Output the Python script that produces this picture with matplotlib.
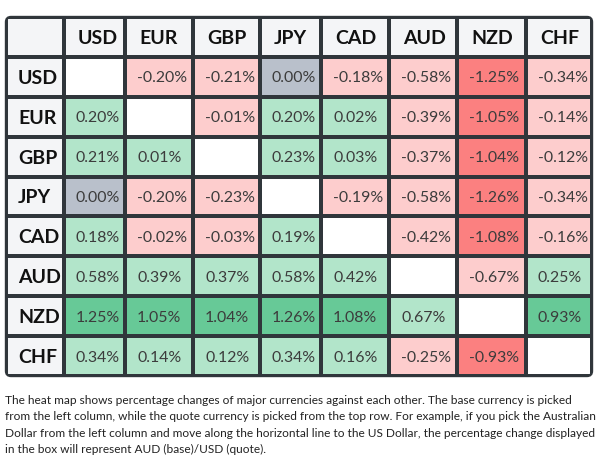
import numpy as np
import matplotlib
matplotlib.use("Agg")
import matplotlib.pyplot as plt
from matplotlib.colors import ListedColormap
from matplotlib.patches import FancyBboxPatch

plt.rcParams['font.family'] = ['Lato', 'DejaVu Sans']

currencies = ["USD", "EUR", "GBP", "JPY", "CAD", "AUD", "NZD", "CHF"]

# rows = base currency, cols = quote currency, None on the diagonal
usd = [None, -0.20, -0.21, 0.00, -0.18, -0.58, -1.25, -0.34]
eur = [0.20, None, -0.01, 0.20, 0.02, -0.39, -1.05, -0.14]
gbp = [0.21, 0.01, None, 0.23, 0.03, -0.37, -1.04, -0.12]
jpy = [0.00, -0.20, -0.23, None, -0.19, -0.58, -1.26, -0.34]
cad = [0.18, -0.02, -0.03, 0.19, None, -0.42, -1.08, -0.16]
aud = [0.58, 0.39, 0.37, 0.58, 0.42, None, -0.67, 0.25]
nzd = [1.25, 1.05, 1.04, 1.26, 1.08, 0.67, None, 0.93]
chf = [0.34, 0.14, 0.12, 0.34, 0.16, -0.25, -0.93, None]
rows = [usd, eur, gbp, jpy, cad, aud, nzd, chf]

caption = [
    "The heat map shows percentage changes of major currencies against each other. The base currency is picked",
    "from the left column, while the quote currency is picked from the top row. For example, if you pick the Australian",
    "Dollar from the left column and move along the horizontal line to the US Dollar, the percentage change displayed",
    "in the box will represent AUD (base)/USD (quote).",
]

# colour classes: 0 header, 1 blank, 2 light red, 3 strong red, 4 light green, 5 strong green, 6 flat
palette = ["#f4f5f7", "#ffffff", "#fdcdcd", "#fb8080", "#b2e5ca", "#67c997", "#b9c0cb"]


def cls(v):
    if v is None:
        return 1
    if v == 0:
        return 6
    if v < 0:
        return 3 if v <= -0.9 else 2
    return 5 if v >= 0.9 else 4


n = len(currencies) + 1
grid = np.zeros((n, n), dtype=int)
for i, r in enumerate(rows):
    for j, v in enumerate(r):
        grid[i + 1, j + 1] = cls(v)

W, H = 601, 461
fig = plt.figure(figsize=(W / 100, H / 100), dpi=100)
fig.patch.set_facecolor("white")

tx0, tx1, ty0, ty1 = 6, 592, 17, 376
ax = fig.add_axes([tx0 / W, 1 - ty1 / H, (tx1 - tx0) / W, (ty1 - ty0) / H])
col_w = [58, 61, 68, 67, 61, 68, 68, 69, 66]
xe = np.concatenate([[0], np.cumsum(col_w)])
ye = np.linspace(0, ty1 - ty0, n + 1)
ax.set_xlim(0, xe[-1])
ax.set_ylim(ye[-1], 0)
ax.axis("off")

clip = FancyBboxPatch((0, 0), xe[-1], ye[-1], boxstyle="round,pad=0,rounding_size=5",
                      transform=ax.transData, facecolor="none", edgecolor="#30363b",
                      linewidth=1.7, zorder=5, clip_on=False)
mesh = ax.pcolormesh(xe, ye, grid, cmap=ListedColormap(palette), vmin=-0.5, vmax=6.5,
                     edgecolors="#30363b", linewidth=1.7)
ax.add_patch(clip)
mesh.set_clip_path(clip)

pad = 12
for k, c in enumerate(currencies):
    yc = (ye[k + 1] + ye[k + 2]) / 2
    ax.text(xe[0] + pad, yc, c, ha="left", va="center_baseline", fontsize=14,
            fontweight="bold", color="#111111")
    xc = xe[k + 1] + pad + 2
    ax.text(xc, (ye[0] + ye[1]) / 2, c, ha="left", va="center_baseline", fontsize=14,
            fontweight="bold", color="#111111")

for i, r in enumerate(rows):
    for j, v in enumerate(r):
        if v is None:
            continue
        ax.text(xe[j + 1] + pad, (ye[i + 1] + ye[i + 2]) / 2, f"{v:.2f}%", ha="left",
                va="center_baseline", fontsize=11.4, color="#3c3c3c")

for k, line in enumerate(caption):
    fig.text(5 / W, 1 - (400 + k * 16.5) / H, line, ha="left", va="center",
             fontsize=8.6, color="#222222")

fig.savefig("out.png", dpi=100, facecolor="white")
